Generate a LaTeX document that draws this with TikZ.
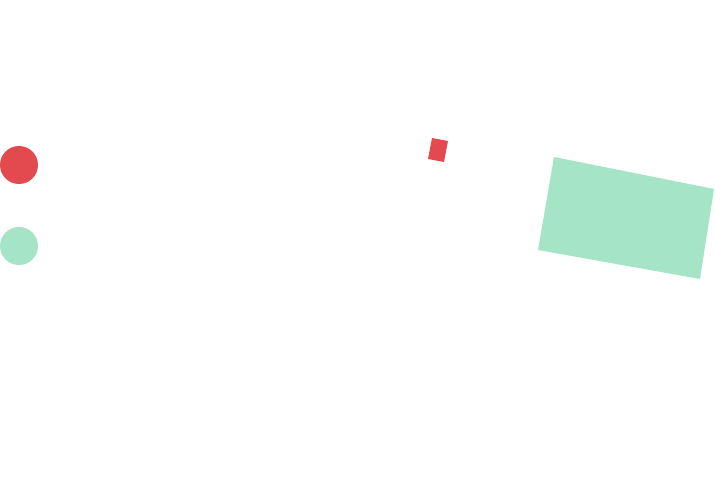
\documentclass[tikz,border=0pt]{standalone}
\definecolor{cred}{HTML}{E34A4F}
\definecolor{cgreen}{HTML}{A5E4C6}
\begin{document}
\begin{tikzpicture}[x=1pt,y=-1pt]
\useasboundingbox (0,0) rectangle (715,492);
\fill[cred] (19,165) circle (19);
\fill[cgreen] (19,246) circle (19);
\fill[cred] (432,138) -- (448,141) -- (444,162) -- (428,159) -- cycle;
\fill[cgreen] (554,157) -- (714,189) -- (700,279) -- (538,250) -- cycle;
\end{tikzpicture}
\end{document}
